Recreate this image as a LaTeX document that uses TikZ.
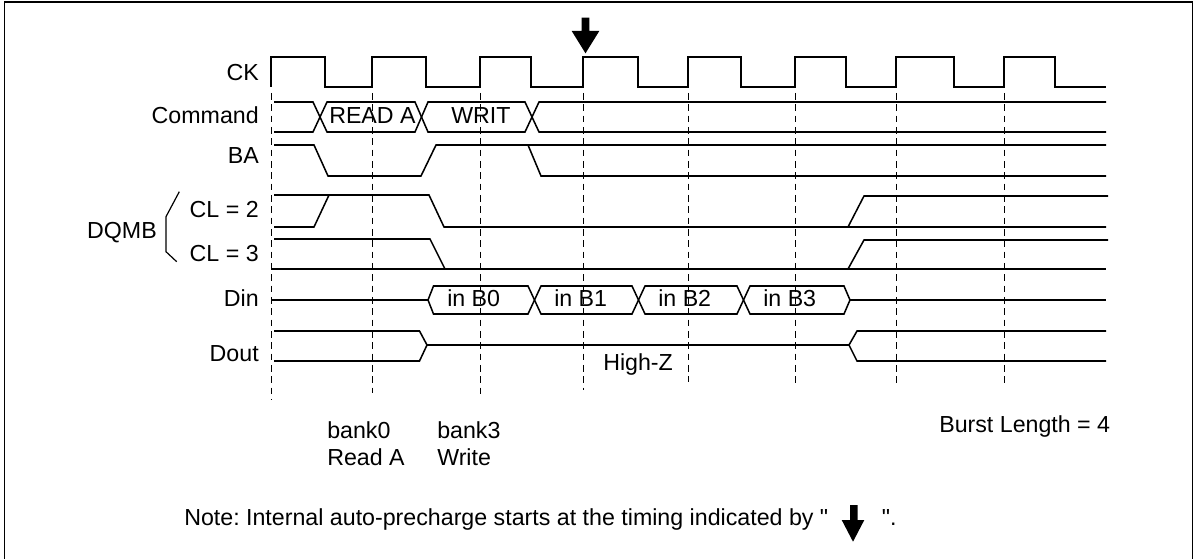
\documentclass[tikz,border=0pt]{standalone}
\usepackage{fontspec}
\setmainfont{Liberation Sans}[Ligatures=TeXOff]
\frenchspacing
\begin{document}
\begin{tikzpicture}[x=0.75pt,y=-0.75pt,
  wave/.style={line width=1.15pt, line join=miter},
  gridline/.style={line width=0.6pt, dash pattern=on 5pt off 3.5pt},
  lbl/.style={anchor=base east, inner sep=0pt, font=\fontsize{17.4}{20}\selectfont},
  txt/.style={anchor=base west, inner sep=0pt, font=\fontsize{17.4}{20}\selectfont},
  bigarrow/.style={fill=black}]
\useasboundingbox (0,0) rectangle (1199,559);
% frame
\draw[line width=1.1pt] (4.5,559) -- (4.5,2) -- (1192.7,2) -- (1192.7,559);
% dashed clock grid
\foreach \x/\e in {271/400,372/393,480/398,583/390,688/382,795/385,896/385,1004/385}
  \draw[gridline] (\x,93) -- (\x,\e);
% labels
\node[lbl] (lck) at (259,81) {CK};
\node[lbl] (lcmd) at (259,124) {Command};
\node[lbl] (lba) at (259,164) {BA};
\node[lbl] (lcl2) at (259,218) {CL = 2};
\node[lbl] (lcl3) at (259,262) {CL = 3};
\node[lbl] (ldqmb) at (157,239) {DQMB};
\node[lbl] (ldin) at (259,306.5) {Din};
\node[lbl] (ldout) at (259,361.5) {Dout};
% brace
\draw[line width=0.9pt] (179.3,191.7) -- (166,216.7) -- (166,251.7) -- (176.7,261.7);
% CK
\draw[wave] (271,87) -- (271,57) -- (325,57) -- (325,87) -- (372,87) -- (372,57) -- (426,57) -- (426,87)
  -- (480,87) -- (480,57) -- (531,57) -- (531,87) -- (583,87) -- (583,57) -- (638,57) -- (638,87)
  -- (688,87) -- (688,57) -- (741,57) -- (741,87) -- (795,87) -- (795,57) -- (846,57) -- (846,87)
  -- (896,87) -- (896,57) -- (954,57) -- (954,87) -- (1004,87) -- (1004,57) -- (1055,57) -- (1055,87) -- (1106,87);
% auto-precharge arrow
\fill[bigarrow] (581.7,17.7) -- (589.3,17.7) -- (589.3,31) -- (599.3,31) -- (585.5,53.3) -- (571.7,31) -- (581.7,31) -- cycle;
% Command
\draw[wave] (274,102) -- (313,102) -- (327,132) -- (415,132) -- (428,102) -- (525,102) -- (539,132) -- (1106,132);
\draw[wave] (274,132) -- (313,132) -- (327,102) -- (415,102) -- (428,132) -- (525,132) -- (539,102) -- (1106,102);
\node[txt] (tread) at (329,124) {READ A};
\node[txt] (twrit) at (451,124) {WRIT};
% BA
\draw[wave] (274,145) -- (314,145) -- (328,176) -- (421,176) -- (436,145) -- (1106,145);
\draw[wave] (528,145) -- (541,176) -- (1106,176);
% DQMB CL=2
\draw[wave] (274,195) -- (429,195) -- (444,227) -- (1106,227);
\draw[wave] (274,227) -- (314,227) -- (329,195);
\draw[wave] (848,227) -- (864,196) -- (1108,196);
% DQMB CL=3
\draw[wave] (272,269) -- (1106,269);
\draw[wave] (274,239) -- (430,239) -- (445,269);
\draw[wave] (848,269) -- (864,240) -- (1108,240);
% Din
\draw[wave] (271,300) -- (428,300);
\draw[wave] (428,300) -- (433.5,286) -- (528,286) -- (541,314) -- (632,314) -- (645,286) -- (737,286) -- (750,314) -- (844,314) -- (850,300);
\draw[wave] (428,300) -- (433.5,314) -- (528,314) -- (541,286) -- (632,286) -- (645,314) -- (737,314) -- (750,286) -- (844,286) -- (850,300);
\draw[wave] (850,300) -- (1106,300);
\node[txt] (tb0) at (447,307) {in B0};
\node[txt] (tb1) at (554,307) {in B1};
\node[txt] (tb2) at (658,307) {in B2};
\node[txt] (tb3) at (763,307) {in B3};
% Dout
\draw[wave] (274,331) -- (419.5,331) -- (427,345) -- (419.5,361) -- (274,361);
\draw[wave] (427,345) -- (849,345);
\draw[wave] (1106,331) -- (857,331) -- (849,345) -- (857,361) -- (1106,361);
\node[txt] (thz) at (603,370.5) {High-Z};
% bottom texts
\node[txt] (tbank0) at (327,438) {bank0};
\node[txt] (treada) at (327,465) {Read A};
\node[txt] (tbank3) at (437,438) {bank3};
\node[txt] (twrite) at (437,465) {Write};
\node[txt] (tburst) at (939,432) {Burst Length = 4};
\node[txt] (tnote) at (184,525) {Note: Internal auto-precharge starts at the timing indicated by "};
\node[txt] (tnoteend) at (881.7,525) {".};
\fill[bigarrow] (850,505) -- (857.7,505) -- (857.7,520) -- (864.3,520) -- (853,541.7) -- (841.7,520) -- (850,520) -- cycle;
\end{tikzpicture}
\end{document}
